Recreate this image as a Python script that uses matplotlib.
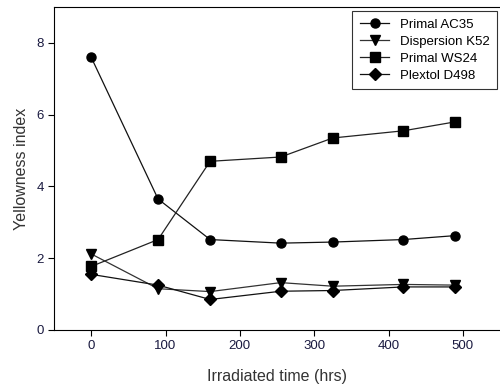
import matplotlib
matplotlib.use('Agg')
import matplotlib.pyplot as plt

plt.rcParams['font.family'] = ['Liberation Sans', 'DejaVu Sans']

hours = [0, 90, 160, 255, 325, 420, 490]
ac35 = [7.6, 3.65, 2.52, 2.42, 2.45, 2.52, 2.63]
k52 = [2.12, 1.15, 1.07, 1.32, 1.22, 1.27, 1.25]
ws24 = [1.77, 2.52, 4.70, 4.82, 5.35, 5.55, 5.80]
d498 = [1.55, 1.25, 0.85, 1.08, 1.10, 1.20, 1.20]

fig = plt.figure(figsize=(5, 3.88), dpi=100)
ax = fig.add_axes([0.108, 0.1495, 0.892, 0.8325])

ax.plot(hours, ac35, color='#111111', lw=0.9, marker='o', ms=6.5, mfc='black', mec='black', label='Primal AC35')
ax.plot(hours, k52, color='#333333', lw=0.9, marker='v', ms=7, mfc='black', mec='black', label='Dispersion K52')
ax.plot(hours, ws24, color='#222222', lw=0.9, marker='s', ms=6.5, mfc='black', mec='black', label='Primal WS24')
ax.plot(hours, d498, color='#111111', lw=0.9, marker='D', ms=6, mfc='black', mec='black', label='Plextol D498')

ax.set_xlim(-50, 550)
ax.set_ylim(0, 9)
ax.set_xticks([0, 100, 200, 300, 400, 500])
ax.set_yticks([0, 2, 4, 6, 8])
ax.spines['right'].set_visible(False)
ax.tick_params(direction='out', length=4, width=0.8, labelsize=9.5, labelcolor='#1a1a40')
ax.set_xlabel('Irradiated time (hrs)', fontsize=11.5, color='#333333', labelpad=12)
ax.set_ylabel('Yellowness index', fontsize=11.5, color='#333333', labelpad=5)

leg = ax.legend(loc='upper right', bbox_to_anchor=(0.994, 0.988), borderaxespad=0,
                fontsize=9.5, frameon=True, fancybox=False, edgecolor='black',
                handlelength=2.2, borderpad=0.6, labelspacing=0.35)
leg.get_frame().set_linewidth(0.8)

fig.savefig('out.png', dpi=100)
